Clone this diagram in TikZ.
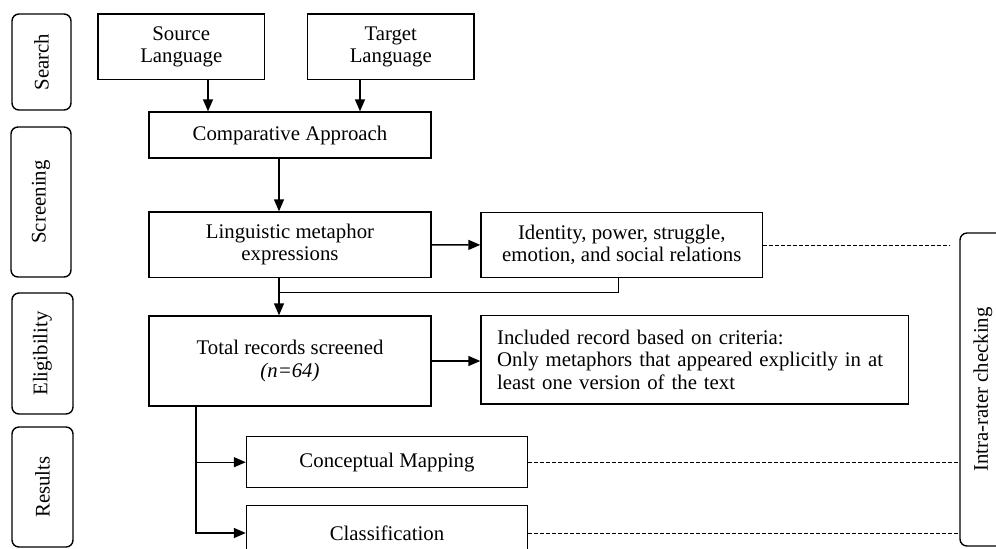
\documentclass[tikz,border=0pt]{standalone}
\usepackage{graphicx}
\usepackage{fontspec}
\setmainfont{Liberation Serif}
\usepackage{tikz}
\usetikzlibrary{calc,positioning,arrows.meta}

\begin{document}
\begin{tikzpicture}[x=0.5pt,y=-0.5pt,line width=0.7pt,
		every node/.style={font=\fontsize{10.4}{11.2}\selectfont},
		box/.style={draw,align=center,inner sep=0pt},
		stage/.style={draw,rounded corners=3.5pt,rotate=90,inner sep=0pt},
		arr/.style={-{Triangle[length=6pt,width=5pt]}},
		dashline/.style={line width=0.5pt,dash pattern=on 1.8pt off 1.2pt}]
		\useasboundingbox (0,0) rectangle (996,548);
		\clip (0,0) rectangle (996,548);
		% stages on the left
		\node[stage,minimum width=48pt,minimum height=29.5pt] (search) at (41.5,62) {Search};
		\node[stage,minimum width=75pt,minimum height=30pt] (screen) at (41,202) {Screening};
		\node[stage,minimum width=60.5pt,minimum height=30.5pt] (elig) at (42.5,353.5) {Eligibility};
		\node[stage,minimum width=60pt,minimum height=30.5pt] (res) at (42.5,487) {Results};
		
		\node[box,minimum width=83.25pt,minimum height=32.75pt] (src) at (181.25,46.75) {Source\\Language};
		\node[box,minimum width=83.25pt,minimum height=32.75pt] (tgt) at (390.75,46.75) {Target\\Language};
		\node[box,minimum width=141pt,minimum height=23pt] (comp) at (290,135) {Comparative Approach};
		\node[box,minimum width=141pt,minimum height=32.75pt] (ling) at (290,244.75) {Linguistic metaphor\\expressions};
		\node[box,minimum width=140.75pt,minimum height=32.75pt] (idty) at (621.75,245) {Identity, power, struggle,\\emotion, and social relations};
		\node[box,minimum width=141pt,minimum height=45pt] (total) at (290,361) {Total records screened\\\textit{(n=64)}};
		\node[box,align=left,text width=197.5pt,minimum width=213.65pt,minimum height=44.35pt] (incl) at (694.65,359.65) {Included record based on criteria:\\\makebox[197.5pt][s]{Only metaphors that appeared explicitly in at}\\least one version of the text};
		\node[box,minimum width=140.5pt,minimum height=25.5pt] (cmap) at (387,462.2) {Conceptual Mapping};
		\node[box,minimum width=140.5pt,minimum height=27.5pt] (clas) at (387,533) {Classification};
		\node[stage,minimum width=156.5pt,minimum height=23pt] (intra) at (983,389.5) {Intra-rater checking};
		
		\coordinate (s1) at ($(src.south)+(26.75,0)$);
		\coordinate (t1) at ($(tgt.south)+(-30.75,0)$);
		\draw[arr] (s1) -- (s1 |- comp.north);
		\draw[arr] (t1) -- (t1 |- comp.north);
		\coordinate (spine) at (279,0);
		\draw[arr] (comp.south -| spine) -- (ling.north -| spine);
		\draw[arr] (ling) -- (idty);
		\draw[arr] (ling.south -| spine) -- (total.north -| spine);
		\coordinate (join) at (279,292.5);
		\draw ($(idty.south)+(-3,0)$) |- (join);
		\draw[arr] (total.east) -- (total.east -| incl.west);
		\coordinate (trunk) at (196,0);
		\draw[arr] (total.south -| trunk) |- (cmap.west);
		\draw[arr] (total.south -| trunk) |- (clas.west);
		% intra is turned by 90 degrees, so its north side faces left
		\draw[dashline] (idty.east) -- ($(idty.east -| intra.north)+(-10,0)$);
		\draw[dashline] (cmap.east) -- (cmap.east -| intra.north);
		\draw[dashline] (clas.east) -- (clas.east -| intra.north);
	\end{tikzpicture}
\end{document}
